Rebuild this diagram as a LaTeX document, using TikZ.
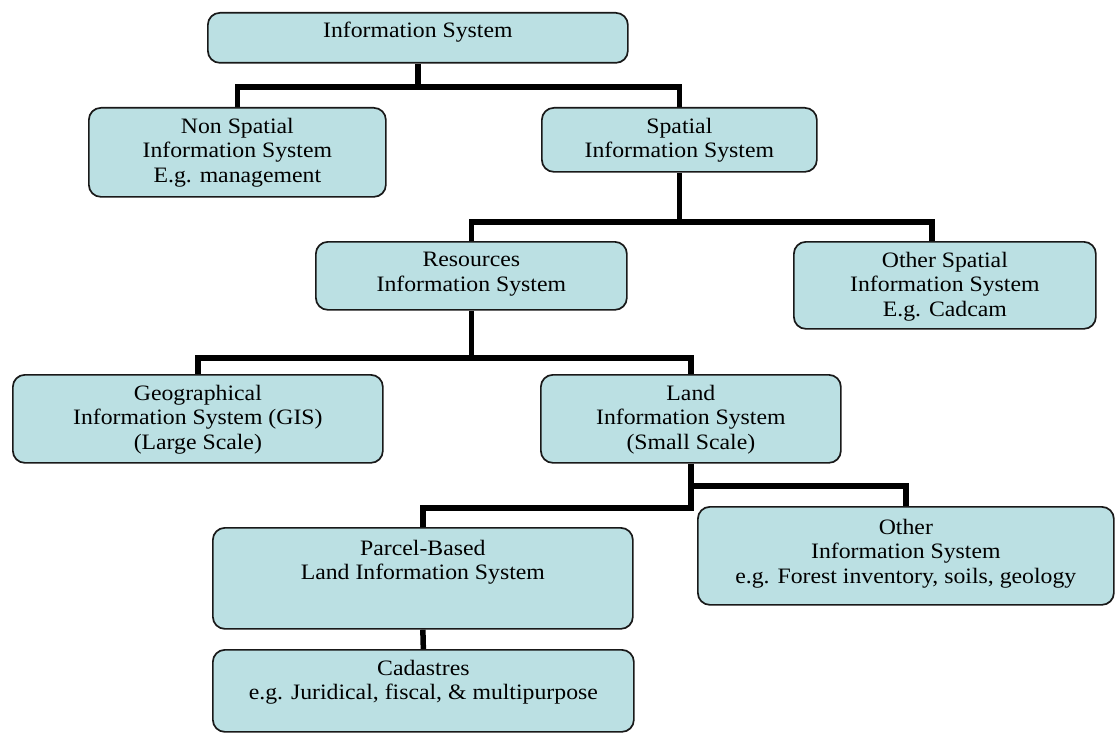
\documentclass[tikz,border=0pt]{standalone}
\usepackage{fontspec}
\setmainfont[FakeStretch=1.08]{Liberation Serif}
\usetikzlibrary{backgrounds}
\definecolor{boxfill}{RGB}{187,224,227}
\begin{document}
\begin{tikzpicture}[x=1pt,y=-1pt,
  box/.style={draw=black!90, line width=1.7pt, fill=boxfill, rounded corners=12pt,
              inner sep=0pt, anchor=north west},
  lbl/.style={anchor=north, inner sep=0pt, align=center,
              font=\fontsize{22}{24.5}\selectfont},
  conn/.style={line width=5.5pt, line join=miter}]
\useasboundingbox (0,0) rectangle (1115,733);

% boxes
\node[box, minimum width=420pt, minimum height=50pt]  (is)   at (207,12)  {};
\node[box, minimum width=297pt, minimum height=89pt]  (nsp)  at (88,107)  {};
\node[box, minimum width=275pt, minimum height=64pt]  (sp)   at (541,107) {};
\node[box, minimum width=311pt, minimum height=68pt]  (res)  at (315,241) {};
\node[box, minimum width=302pt, minimum height=87pt]  (osp)  at (793,241) {};
\node[box, minimum width=370pt, minimum height=88pt]  (geo)  at (12,374)  {};
\node[box, minimum width=300pt, minimum height=88pt]  (land) at (540,374) {};
\node[box, minimum width=420pt, minimum height=101pt] (par)  at (212,527) {};
\node[box, minimum width=416pt, minimum height=98pt]  (oth)  at (697,506) {};
\node[box, minimum width=421pt, minimum height=82pt]  (cad)  at (212,649) {};

% labels
\node[lbl] (is-t)   at ([yshift=-10pt]is.north)   {Information System};
\node[lbl] (nsp-t)  at ([yshift=-11pt]nsp.north)  {Non Spatial\\Information System\\E.g. management};
\node[lbl] (sp-t)   at ([yshift=-11pt]sp.north)   {Spatial\\Information System};
\node[lbl] (res-t)  at ([yshift=-11pt]res.north)  {Resources\\Information System};
\node[lbl] (osp-t)  at ([yshift=-11pt]osp.north)  {Other Spatial\\Information System\\E.g. Cadcam};
\node[lbl] (geo-t)  at ([yshift=-11pt]geo.north)  {Geographical\\Information System (GIS)\\(Large Scale)};
\node[lbl] (land-t) at ([yshift=-11pt]land.north) {Land\\Information System\\(Small Scale)};
\node[lbl] (par-t)  at ([yshift=-13pt]par.north)  {Parcel-Based\\Land Information System};
\node[lbl] (oth-t)  at ([yshift=-13pt]oth.north)  {Other\\Information System\\e.g. Forest inventory, soils, geology};
\node[lbl] (cad-t)  at ([yshift=-11pt]cad.north)  {Cadastres\\e.g. Juridical, fiscal, \& multipurpose};

% tree connectors, behind the boxes
\begin{scope}[on background layer]
  \draw[conn] (is.south) -- (is.south |- 0,87);
  \draw[conn] (nsp.north) |- (sp.north |- 0,87) -- (sp.north);

  \draw[conn] (sp.south) -- (sp.south |- 0,222);
  \draw[conn] (res.north) |- ([xshift=-13pt]osp.north |- 0,222) -- ([xshift=-13pt]osp.north);

  \draw[conn] (res.south) -- (res.south |- 0,358);
  \draw[conn] (geo.north) |- (land.north |- 0,358) -- (land.north);

  \draw[conn] (land.south) |- (oth.north |- 0,486) -- (oth.north);
  \draw[conn] (land.south |- 0,484) |- (par.north |- 0,508) -- (par.north);

  \draw[conn] (par.south) -- (cad.north);
\end{scope}
\end{tikzpicture}
\end{document}
